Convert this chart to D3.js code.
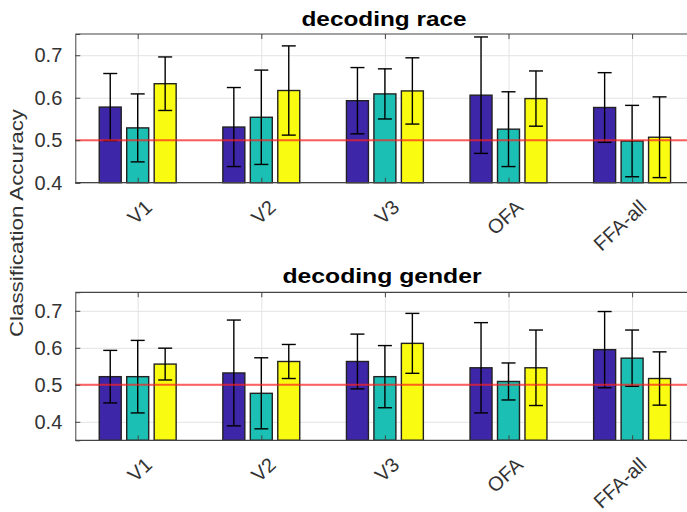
<!DOCTYPE html>
<html><head><meta charset="utf-8">
<script src="https://cdn.jsdelivr.net/npm/d3@7"></script>
<style>
html,body{margin:0;padding:0;background:#fff;}
svg{display:block;}
text{font-family:"Liberation Sans",Arial,Helvetica,sans-serif;}
</style></head>
<body>
<svg id="chart" width="687" height="512"></svg>
<script>
const categories = ["V1","V2","V3","OFA","FFA-all"];
const seriesNames = ["A","B","C"];
const seriesColors = ["#3e26a8","#1bbfb3","#f9fb10"];

// decoding race
const raceMeanA = [0.578, 0.531, 0.593, 0.606, 0.577];
const raceMeanB = [0.529, 0.554, 0.609, 0.526, 0.498];
const raceMeanC = [0.633, 0.617, 0.616, 0.598, 0.507];
const raceErrA  = [0.079, 0.093, 0.078, 0.137, 0.082];
const raceErrB  = [0.080, 0.111, 0.059, 0.088, 0.084];
const raceErrC  = [0.063, 0.105, 0.078, 0.065, 0.095];

// decoding gender
const genderMeanA = [0.522, 0.532, 0.563, 0.546, 0.595];
const genderMeanB = [0.522, 0.477, 0.522, 0.509, 0.572];
const genderMeanC = [0.556, 0.563, 0.612, 0.546, 0.517];
const genderErrA  = [0.071, 0.143, 0.074, 0.122, 0.103];
const genderErrB  = [0.098, 0.096, 0.084, 0.050, 0.076];
const genderErrC  = [0.043, 0.046, 0.081, 0.102, 0.072];

const raceTicks = [0.4, 0.5, 0.6, 0.7];
const genderTicks = [0.4, 0.5, 0.6, 0.7];
const chanceLevel = 0.5;

const titles = ["decoding race", "decoding gender"];
const yLabel = "Classification Accuracy";

const svg = d3.select("#chart");

const x = d3.scaleLinear().domain([0.5, 5.5]).range([75.9, 693.9]);
const groupStep = 0.2222, barW = 0.1778;

const panels = [
  {title: titles[0], means:[raceMeanA,raceMeanB,raceMeanC], errs:[raceErrA,raceErrB,raceErrC],
   ticks: raceTicks, y: d3.scaleLinear().domain([0.4,0.75]).range([182.7, 34.0]),
   titleY: 26, titleX: 384, titleLen: 165},
  {title: titles[1], means:[genderMeanA,genderMeanB,genderMeanC], errs:[genderErrA,genderErrB,genderErrC],
   ticks: genderTicks, y: d3.scaleLinear().domain([0.35,0.75]).range([440.3, 292.3]),
   titleY: 282.7, titleX: 382, titleLen: 199}
];

const left = x.range()[0] - 0.6, right = x.range()[1];

panels.forEach((p) => {
  const g = svg.append("g");
  const y = p.y;
  const [yb, yt] = y.range();

  // grid
  g.append("g").attr("transform", `translate(${left},0)`)
    .call(d3.axisLeft(y).tickValues(p.ticks).tickSize(-(right-left)).tickFormat(""))
    .call(s => s.select(".domain").remove())
    .call(s => s.selectAll("line").attr("stroke", "#e3e3e3").attr("stroke-width", 1));
  g.append("g").attr("transform", `translate(0,${yt})`)
    .call(d3.axisTop(x).tickValues(d3.range(1, categories.length+1)).tickSize(-(yb-yt)).tickFormat(""))
    .call(s => s.select(".domain").remove())
    .call(s => s.selectAll("line").attr("stroke", "#e3e3e3").attr("stroke-width", 1));

  // bars
  const data = [];
  categories.forEach((c, i) => {
    seriesNames.forEach((sn, j) => {
      data.push({i, j, v: p.means[j][i], e: p.errs[j][i]});
    });
  });
  const bw = x(barW) - x(0);
  const cx = d => x(d.i + 1 + (d.j - 1) * groupStep);
  g.selectAll("rect.bar").data(data).enter().append("rect")
    .attr("class", "bar")
    .attr("x", d => cx(d) - bw/2)
    .attr("width", bw)
    .attr("y", d => y(d.v))
    .attr("height", d => yb - y(d.v))
    .attr("fill", d => seriesColors[d.j])
    .attr("stroke", "#222")
    .attr("stroke-width", 1.4);

  // error bars
  const cap = 7;
  const eb = g.selectAll("g.eb").data(data).enter().append("g").attr("class", "eb")
    .attr("stroke", "#000").attr("stroke-width", 1.4);
  eb.append("line").attr("x1", cx).attr("x2", cx)
    .attr("y1", d => y(d.v + d.e)).attr("y2", d => y(d.v - d.e));
  eb.append("line").attr("x1", d => cx(d) - cap).attr("x2", d => cx(d) + cap)
    .attr("y1", d => y(d.v + d.e)).attr("y2", d => y(d.v + d.e));
  eb.append("line").attr("x1", d => cx(d) - cap).attr("x2", d => cx(d) + cap)
    .attr("y1", d => y(d.v - d.e)).attr("y2", d => y(d.v - d.e));

  // chance line
  g.append("line").attr("x1", left).attr("x2", right)
    .attr("y1", y(chanceLevel)).attr("y2", y(chanceLevel))
    .attr("stroke", "#ff2020").attr("stroke-opacity", 0.7).attr("stroke-width", 2);

  // axes box + inward ticks
  const axCol = "#444";
  g.append("g").attr("transform", `translate(${left},0)`)
    .call(d3.axisLeft(y).tickValues(p.ticks).tickSize(-5).tickPadding(13)
      .tickFormat(d3.format(".1f")))
    .call(s => s.select(".domain").attr("stroke", axCol))
    .call(s => s.selectAll("line").attr("stroke", axCol))
    .call(s => s.selectAll("text").attr("font-size", 20).attr("fill", "#333")
      .attr("font-family", '"Liberation Sans",Arial,sans-serif'));
  g.append("line").attr("x1", left).attr("x2", right).attr("y1", yt).attr("y2", yt)
    .attr("stroke", axCol).attr("stroke-width", 1.2);
  g.append("line").attr("x1", left).attr("x2", right).attr("y1", yb).attr("y2", yb)
    .attr("stroke", axCol).attr("stroke-width", 1.2);
  g.append("g").attr("transform", `translate(0,${yt})`)
    .call(d3.axisTop(x).tickValues(d3.range(1, categories.length+1)).tickSize(-5).tickFormat(""))
    .call(s => s.select(".domain").remove())
    .call(s => s.selectAll("line").attr("stroke", axCol));
  g.append("g").attr("transform", `translate(0,${yb})`)
    .call(d3.axisBottom(x).tickValues(d3.range(1, categories.length+1)).tickSize(-5).tickFormat(""))
    .call(s => s.select(".domain").remove())
    .call(s => s.selectAll("line").attr("stroke", axCol));

  // rotated category labels
  g.selectAll("text.xl").data(categories).enter().append("text")
    .attr("class", "xl")
    .attr("transform", (c, i) => `translate(${x(i+1) + 11},${yb + 21}) rotate(-43)`)
    .attr("text-anchor", "end")
    .attr("dominant-baseline", "central")
    .attr("font-size", 20)
    .attr("fill", "#333")
    .text(c => c);

  // title
  g.append("text")
    .attr("x", p.titleX).attr("y", p.titleY)
    .attr("text-anchor", "middle")
    .attr("font-size", 20).attr("font-weight", "bold").attr("fill", "#000")
    .attr("textLength", p.titleLen).attr("lengthAdjust", "spacingAndGlyphs")
    .text(p.title);
});

svg.append("text")
  .attr("transform", "translate(23,223) rotate(-90)")
  .attr("text-anchor", "middle")
  .attr("font-size", 19).attr("fill", "#333")
  .attr("textLength", 228).attr("lengthAdjust", "spacingAndGlyphs")
  .text(yLabel);
</script>
</body></html>
